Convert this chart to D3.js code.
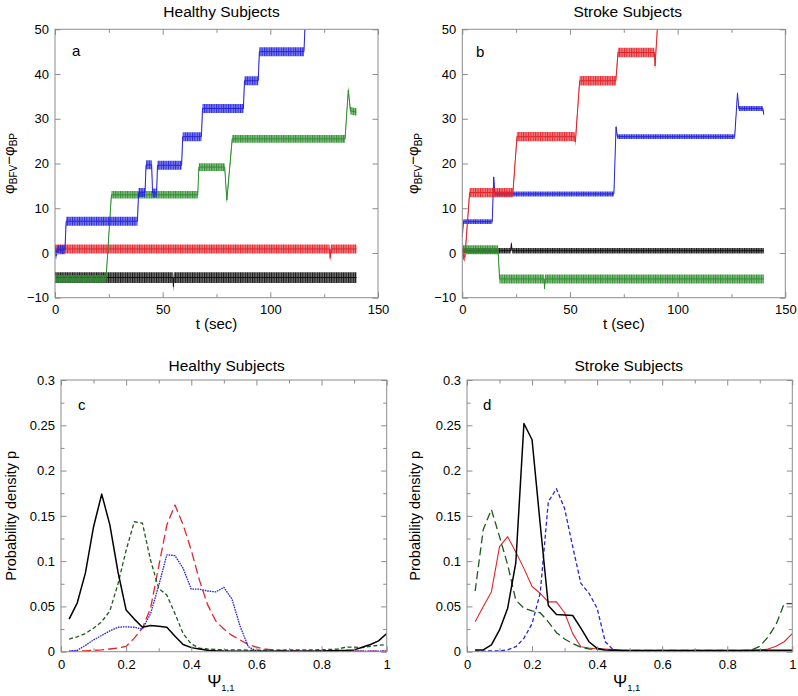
<!DOCTYPE html>
<html><head><meta charset="utf-8">
<script src="https://cdn.jsdelivr.net/npm/d3@7"></script>
<style>
body{margin:0;background:#fff}
svg{display:block}
text{font-family:"Liberation Sans",Arial,Helvetica,sans-serif;}
</style>
</head><body>
<svg id="chart" width="798" height="696"></svg>
<script>
// ---------- DATA ----------
// Panel a/b: phase difference traces, step breakpoints [t (sec), phi_BFV - phi_BP]
const healthyBlue  = [[0,0.7],[0.5,-0.6],[1,0.7],[4.6,0.7],[5.2,7.1],[38.3,7.1],[38.8,13.5],[41.8,13.5],[42.3,19.7],[44.9,19.7],[45.3,13.4],[47.2,13.4],[47.6,19.6],[58.8,19.6],[59.3,26],[68,26],[68.5,32.3],[87.5,32.3],[88,38.5],[94.4,38.5],[94.9,45],[115.6,45],[116.2,51.6],[140,51.6]];
const healthyGreen = [[0,-5.8],[23.7,-5.8],[26.2,13],[66.3,13],[66.8,19.2],[78.8,19.2],[79.8,11.8],[82.3,25.5],[134.7,25.5],[136.2,36.4],[137.2,31.8],[140,31.5]];
const healthyRed   = [[0,0.9],[127.5,0.9],[127.8,-1.2],[128.1,0.9],[140,0.9]];
const healthyBlack = [[0,-5.5],[54.8,-5.5],[55,-7.5],[55.2,-5.5],[140,-5.5]];
const strokeRed    = [[0,0],[1.2,-1],[3.4,13.5],[23.5,13.5],[25.4,26],[52.2,26],[52.5,24.8],[54.5,38.5],[71.3,38.5],[72.3,44.8],[89.2,44.8],[89.5,41.8],[90.9,52.5],[140,52.5]];
const strokeBlue   = [[0,3.5],[0.5,7],[13.9,7],[14.6,17],[15.1,13.2],[70.4,13.2],[71.4,28.2],[72,26],[126.5,26],[127.8,35.7],[128.4,32.3],[139.5,32.3],[140,31]];
const strokeBlack  = [[0,0.5],[22.5,0.5],[22.8,2.1],[23.1,0.5],[140,0.5]];
const strokeGreen  = [[0,0.7],[16.6,0.7],[17.3,-5.8],[38,-5.8],[38.2,-8],[38.4,-5.8],[140,-5.8]];
// half-width of the noise band around each trace (phase units)
const healthyNoise = [1.0, 0.85, 1.0, 1.2];   // blue, green, red, black
const strokeNoise  = [1.05, 0.55, 0.6, 1.0];  // red, blue, black, green

// Panel c/d: probability density of Psi_1,1
const psiBins = [0.025,0.05,0.075,0.1,0.125,0.15,0.175,0.2,0.225,0.25,0.275,0.3,0.325,0.35,0.375,0.4,0.425,0.45,0.475,0.5,0.525,0.55,0.575,0.6,0.625,0.65,0.675,0.7,0.725,0.75,0.775,0.8,0.825,0.85,0.875,0.9,0.925,0.95,0.975,1.0];
const healthyPdfBlack = [0.036,0.054,0.087,0.138,0.174,0.140,0.088,0.046,0.036,0.027,0.029,0.028,0.027,0.017,0.008,0.0045,0.003,0.0015,0.001,0.0008,0.0006,0.0005,0.0005,0.0005,0.0005,0.0005,0.0005,0.0005,0.0005,0.0005,0.0006,0.0008,0.001,0.0012,0.0015,0.002,0.005,0.008,0.012,0.020];
const healthyPdfGreen = [0.014,0.0165,0.020,0.026,0.033,0.045,0.075,0.112,0.1435,0.142,0.101,0.070,0.0625,0.042,0.020,0.0085,0.004,0.003,0.0025,0.002,0.002,0.002,0.0018,0.0018,0.0018,0.0018,0.0018,0.002,0.002,0.002,0.002,0.0022,0.0025,0.003,0.005,0.005,0.0045,0.006,0.007,0.008];
const healthyPdfRed   = [0.0005,0.0007,0.001,0.0015,0.002,0.003,0.004,0.006,0.015,0.026,0.048,0.094,0.140,0.162,0.140,0.112,0.079,0.052,0.034,0.025,0.018,0.013,0.008,0.005,0.003,0.002,0.0015,0.001,0.0008,0.0007,0.0006,0.0006,0.0005,0.0005,0.0005,0.0005,0.0005,0.0005,0.0005,0.0005];
const healthyPdfBlue  = [0.0005,0.0015,0.007,0.013,0.018,0.023,0.027,0.0275,0.027,0.025,0.042,0.073,0.107,0.106,0.092,0.069,0.069,0.067,0.066,0.071,0.058,0.028,0.0055,0.001,0.0005,0.0005,0.0005,0.0005,0.0005,0.0005,0.0005,0.0005,0.0005,0.0005,0.0005,0.0005,0.0005,0.0005,0.0005,0.0005];
const strokePdfBlack  = [0.002,0.002,0.0075,0.024,0.048,0.098,0.252,0.234,0.141,0.051,0.041,0.0405,0.040,0.026,0.011,0.0037,0.002,0.0015,0.001,0.001,0.001,0.001,0.001,0.001,0.001,0.001,0.001,0.001,0.001,0.001,0.001,0.001,0.001,0.001,0.0012,0.0015,0.0015,0.0015,0.0015,0.0015];
const strokePdfGreen  = [0.067,0.135,0.157,0.127,0.096,0.057,0.048,0.045,0.043,0.033,0.021,0.014,0.009,0.005,0.003,0.0025,0.002,0.0015,0.0015,0.0015,0.0015,0.0015,0.0015,0.0015,0.0015,0.0015,0.0015,0.0015,0.0015,0.0015,0.0015,0.0015,0.0015,0.0015,0.002,0.006,0.016,0.030,0.053,0.053];
const strokePdfRed    = [0.033,0.050,0.066,0.116,0.127,0.110,0.092,0.072,0.0645,0.055,0.055,0.043,0.020,0.0055,0.004,0.003,0.003,0.0025,0.002,0.0018,0.0018,0.0018,0.0018,0.0018,0.0018,0.0018,0.0018,0.0018,0.0018,0.0018,0.0018,0.0018,0.0018,0.0018,0.0018,0.0018,0.003,0.006,0.011,0.020];
const strokePdfBlue   = [0.0007,0.0007,0.0008,0.001,0.002,0.0055,0.0148,0.031,0.0645,0.1656,0.180,0.158,0.116,0.0755,0.0645,0.048,0.011,0.002,0.001,0.0008,0.0008,0.0008,0.0008,0.0008,0.0008,0.0008,0.0008,0.0008,0.0008,0.0008,0.0008,0.0008,0.0008,0.0008,0.0008,0.0008,0.0008,0.0008,0.0008,0.0008];

// tick values
const tMajor = [0,50,100,150], tMinor = [25,75,125];
const phiTicks = [-10,0,10,20,30,40,50];
const psiMajor = [0,0.2,0.4,0.6,0.8,1], psiMinor = [0.1,0.3,0.5,0.7,0.9];
const pMajor = [0,0.05,0.1,0.15,0.2,0.25,0.3], pMinor = [0.025,0.075,0.125,0.175,0.225,0.275];
const pLabels = ["0","0.05","0.1","0.15","0.2","0.25","0.3"];
const psiLabels = ["0","0.2","0.4","0.6","0.8","1"];

// ---------- DRAWING ----------
const svg = d3.select("#chart");
const FONT = '"Liberation Sans",Arial,Helvetica,sans-serif';
const FRAME = "#8c8c8c";
let clipId = 0;

function panel(o) {
  const g = svg.append("g");
  const x = d3.scaleLinear().domain(o.xd).range([o.L, o.R]);
  const y = d3.scaleLinear().domain(o.yd).range([o.B, o.T]);
  const id = "clip" + (clipId++);
  g.append("clipPath").attr("id", id).append("rect")
    .attr("x", o.L).attr("y", o.T).attr("width", o.R - o.L).attr("height", o.B - o.T);
  const plot = g.append("g").attr("clip-path", `url(#${id})`);

  function axis(fn, scale, vals, size, fmt, pad, tr) {
    const a = fn(scale).tickValues(vals).tickSize(size).tickSizeOuter(0).tickPadding(pad)
      .tickFormat(fmt ? fmt : "");
    const ag = g.append("g").attr("transform", tr).call(a);
    ag.select(".domain").remove();
    ag.attr("font-family", FONT).attr("font-size", 13);
    ag.selectAll(".tick line").attr("stroke", FRAME).attr("stroke-width", 1);
    ag.selectAll(".tick text").attr("fill", "#000");
  }
  const bx = `translate(0,${o.B})`, tx = `translate(0,${o.T})`,
        ly = `translate(${o.L},0)`, ry = `translate(${o.R},0)`;
  // minor ticks
  axis(d3.axisBottom, x, o.xMinor, -3.5, null, 0, bx);
  axis(d3.axisTop, x, o.xMinor, -3.5, null, 0, tx);
  if (o.yMinor.length) {
    axis(d3.axisLeft, y, o.yMinor, -3.5, null, 0, ly);
    axis(d3.axisRight, y, o.yMinor, -3.5, null, 0, ry);
  }
  // major ticks
  axis(d3.axisBottom, x, o.xMajor, -5.5, o.xFmt, o.xPad, bx);
  axis(d3.axisTop, x, o.xMajor, -5.5, null, 0, tx);
  axis(d3.axisLeft, y, o.yMajor, -5.5, o.yFmt, 6, ly);
  axis(d3.axisRight, y, o.yMajor, -5.5, null, 0, ry);

  g.append("rect").attr("x", o.L).attr("y", o.T).attr("width", o.R - o.L).attr("height", o.B - o.T)
    .attr("fill", "none").attr("stroke", FRAME).attr("stroke-width", 1);

  // titles / labels
  g.append("text").attr("x", o.titleX).attr("y", o.titleY).attr("text-anchor", "middle")
    .attr("font-size", 15.5).attr("fill", "#000").text(o.title);
  g.append("text").attr("x", o.letterX).attr("y", o.letterY)
    .attr("font-size", 15).attr("fill", "#000").text(o.letter);
  return {g, plot, x, y};
}

// stripe patterns for noisy traces
const defs = svg.append("defs");
function stripe(name, color) {
  const p = defs.append("pattern").attr("id", name).attr("patternUnits", "userSpaceOnUse")
    .attr("width", 2.4).attr("height", 4);
  p.append("rect").attr("width", 2.4).attr("height", 4).attr("fill", color).attr("fill-opacity", 0.6);
  p.append("rect").attr("width", 1).attr("height", 4).attr("fill", color).attr("fill-opacity", 0.95);
}
const C = {blue: "#2626dc", red: "#e3242b", green: "#2f8f2f", black: "#111111"};
Object.entries(C).forEach(([k, v]) => stripe("st-" + k, v));

function trace(P, pts, amp, key) {
  const area = d3.area().x(d => P.x(d[0])).y0(d => P.y(d[1] - amp)).y1(d => P.y(d[1] + amp));
  P.plot.append("path").attr("d", area(pts)).attr("fill", `url(#st-${key})`);
  const line = d3.line().x(d => P.x(d[0])).y(d => P.y(d[1]));
  P.plot.append("path").attr("d", line(pts)).attr("fill", "none")
    .attr("stroke", C[key]).attr("stroke-width", 1);
}

function tsPanel(o) {
  const P = panel(Object.assign({
    xd: [0,150], yd: [-10,50], xMajor: tMajor, xMinor: tMinor, yMajor: phiTicks, yMinor: [],
    xFmt: d3.format("d"), yFmt: d3.format("d"), xPad: 7
  }, o));
  // x label
  P.g.append("text").attr("x", (o.L + o.R) / 2).attr("y", 329).attr("text-anchor", "middle")
    .attr("font-size", 15).attr("fill", "#000").text("t (sec)");
  // y label
  const yl = P.g.append("text").attr("transform", `translate(${o.yLabX},${(o.T + o.B) / 2}) rotate(-90)`)
    .attr("text-anchor", "middle").attr("font-size", 15).attr("fill", "#000");
  yl.append("tspan").text("φ");
  yl.append("tspan").attr("font-size", 10).attr("dy", 3.5).text("BFV");
  yl.append("tspan").attr("dy", -3.5).text("−φ");
  yl.append("tspan").attr("font-size", 10).attr("dy", 3.5).text("BP");
  return P;
}

function pdfPanel(o) {
  const P = panel(Object.assign({
    xd: [0,1], yd: [0,0.3], xMajor: psiMajor, xMinor: psiMinor, yMajor: pMajor, yMinor: pMinor,
    xFmt: (d, i) => psiLabels[i], yFmt: (d, i) => pLabels[i], xPad: 8
  }, o));
  const xl = P.g.append("text").attr("x", (o.L + o.R) / 2 - 3).attr("y", 687)
    .attr("text-anchor", "middle").attr("fill", "#000")
    .attr("font-family", '"Liberation Serif","Times New Roman",serif').attr("font-size", 17);
  xl.append("tspan").text("Ψ");
  xl.append("tspan").attr("font-size", 9.5).attr("dy", 4).text("1,1");
  P.g.append("text").attr("transform", `translate(${o.yLabX},${(o.T + o.B) / 2}) rotate(-90)`)
    .attr("text-anchor", "middle").attr("font-size", 14.5).attr("fill", "#000")
    .text("Probability density p");
  return P;
}

function pdfLine(P, vals, color, width, dash) {
  const line = d3.line().x((d, i) => P.x(psiBins[i])).y(d => P.y(d));
  P.plot.append("path").attr("d", line(vals)).attr("fill", "none")
    .attr("stroke", color).attr("stroke-width", width)
    .attr("stroke-dasharray", dash).attr("stroke-linejoin", "round");
}

// Panel a
const A = tsPanel({L: 55, R: 378, T: 29.3, B: 297.7, title: "Healthy Subjects", titleX: 221.5, titleY: 16.5,
  letter: "a", letterX: 72, letterY: 56, yLabX: 13.5});
trace(A, healthyBlack, healthyNoise[3], "black");
trace(A, healthyRed, healthyNoise[2], "red");
trace(A, healthyGreen, healthyNoise[1], "green");
trace(A, healthyBlue, healthyNoise[0], "blue");

// Panel b
const B = tsPanel({L: 462.3, R: 785.3, T: 29.3, B: 297.7, title: "Stroke Subjects", titleX: 627.7, titleY: 16.5,
  letter: "b", letterX: 476, letterY: 56.5, yLabX: 418});
trace(B, strokeBlack, strokeNoise[2], "black");
trace(B, strokeGreen, strokeNoise[3], "green");
trace(B, strokeBlue, strokeNoise[1], "blue");
trace(B, strokeRed, strokeNoise[0], "red");

// Panel c
const Cp = pdfPanel({L: 61, R: 386.7, T: 380, B: 651.7, title: "Healthy Subjects", titleX: 226.7, titleY: 370.5,
  letter: "c", letterX: 78, letterY: 410, yLabX: 16});
pdfLine(Cp, healthyPdfRed, "#e3242b", 1.3, "9,4");
pdfLine(Cp, healthyPdfBlue, "#2424d8", 1.3, "1.6,0.9");
pdfLine(Cp, healthyPdfGreen, "#1c5a1c", 1.3, "4,2.5");
pdfLine(Cp, healthyPdfBlack, "#000", 1.5, null);

// Panel d
const Dp = pdfPanel({L: 467, R: 792.3, T: 380, B: 651.7, title: "Stroke Subjects", titleX: 628.8, titleY: 370.5,
  letter: "d", letterX: 483, letterY: 410, yLabX: 419.5});
pdfLine(Dp, strokePdfRed, "#e3242b", 1.1, null);
pdfLine(Dp, strokePdfGreen, "#1c5a1c", 1.3, "8,4");
pdfLine(Dp, strokePdfBlue, "#2424d8", 1.3, "4,2.5");
pdfLine(Dp, strokePdfBlack, "#000", 1.5, null);
</script>
</body></html>
